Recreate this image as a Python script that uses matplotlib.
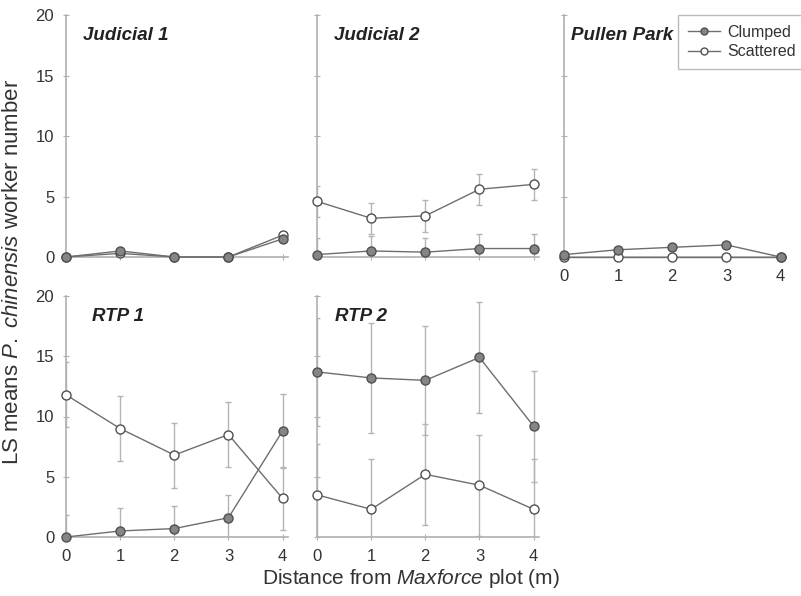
import matplotlib
matplotlib.use("Agg")
import matplotlib.pyplot as plt
from matplotlib.lines import Line2D

plt.rcParams["font.family"] = ["Liberation Sans", "DejaVu Sans"]
plt.rcParams["mathtext.fontset"] = "custom"
plt.rcParams["mathtext.rm"] = "Liberation Sans"
plt.rcParams["mathtext.it"] = "Liberation Sans:italic"

# distance from Maxforce plot (m)
distance = [0, 1, 2, 3, 4]

# LS means (clumped / scattered) and their SE
j1_clumped = [0.0, 0.5, 0.0, 0.0, 1.5]
j1_clumped_se = [0.0, 0.0, 0.0, 0.0, 0.3]
j1_scattered = [0.0, 0.3, 0.0, 0.0, 1.8]
j1_scattered_se = [0.0, 0.0, 0.0, 0.0, 0.3]

j2_clumped = [0.2, 0.5, 0.4, 0.7, 0.7]
j2_clumped_se = [1.4, 1.2, 1.2, 1.2, 1.2]
j2_scattered = [4.6, 3.2, 3.4, 5.6, 6.0]
j2_scattered_se = [1.3, 1.3, 1.3, 1.3, 1.3]

pp_clumped = [0.2, 0.6, 0.8, 1.0, 0.0]
pp_clumped_se = [0.0, 0.0, 0.0, 0.0, 0.0]
pp_scattered = [0.0, 0.0, 0.0, 0.0, 0.0]
pp_scattered_se = [0.0, 0.0, 0.0, 0.0, 0.0]

rtp1_clumped = [0.0, 0.5, 0.7, 1.6, 8.8]
rtp1_clumped_se = [1.8, 1.9, 1.9, 1.9, 3.1]
rtp1_scattered = [11.8, 9.0, 6.8, 8.5, 3.2]
rtp1_scattered_se = [2.7, 2.7, 2.7, 2.7, 2.6]

rtp2_clumped = [13.7, 13.2, 13.0, 14.9, 9.2]
rtp2_clumped_se = [4.5, 4.6, 4.5, 4.6, 4.6]
rtp2_scattered = [3.5, 2.3, 5.2, 4.3, 2.3]
rtp2_scattered_se = [4.2, 4.2, 4.2, 4.2, 4.2]

sites = ["Judicial 1", "Judicial 2", "Pullen Park", "RTP 1", "RTP 2"]

LINE = "#6e6e6e"
EDGE = "#505050"
FILL = "#858585"
ERR = "#b4b4b4"
SPINE = "#b0b0b0"
TXT = "#333333"

fig = plt.figure(figsize=(8.01, 5.96), dpi=100)

W = 222 / 801
H_TOP = 242 / 596
H_BOT = 241 / 596
panels = [
    # rect, clumped, clumped_se, scattered, scattered_se, show y labels, show x labels, title x
    ([66 / 801, 1 - 257 / 596, W, H_TOP], j1_clumped, j1_clumped_se, j1_scattered, j1_scattered_se, True, False, 0.075),
    ([317 / 801, 1 - 257 / 596, W, H_TOP], j2_clumped, j2_clumped_se, j2_scattered, j2_scattered_se, False, False, 0.075),
    ([564 / 801, 1 - 257 / 596, W, H_TOP], pp_clumped, pp_clumped_se, pp_scattered, pp_scattered_se, False, True, 0.03),
    ([66 / 801, 1 - 537 / 596, W, H_BOT], rtp1_clumped, rtp1_clumped_se, rtp1_scattered, rtp1_scattered_se, True, True, 0.115),
    ([317 / 801, 1 - 537 / 596, W, H_BOT], rtp2_clumped, rtp2_clumped_se, rtp2_scattered, rtp2_scattered_se, False, True, 0.08),
]

for site, (rect, cl, cl_se, sc, sc_se, ylab, xlab, tx) in zip(sites, panels):
    ax = fig.add_axes(rect)
    ax.patch.set_alpha(0)
    for vals, se, face in [(sc, sc_se, "white"), (cl, cl_se, FILL)]:
        if any(se):
            ax.errorbar(distance, vals, yerr=se, fmt="none", ecolor=ERR,
                        elinewidth=1.0, capsize=2, capthick=1.0, zorder=1)
        ax.plot(distance, vals, color=LINE, lw=1.0, marker="o", ms=6.5,
                mfc=face, mec=EDGE, mew=1.0, zorder=3, clip_on=False)
    ax.set_xlim(0, 4.1)
    ax.set_ylim(0, 20)
    ax.set_xticks(distance)
    ax.set_yticks([0, 5, 10, 15, 20])
    for s in ["top", "right"]:
        ax.spines[s].set_visible(False)
    for s in ["left", "bottom"]:
        ax.spines[s].set_color(SPINE)
        ax.spines[s].set_linewidth(1.2)
    ax.tick_params(direction="inout", length=5, width=0.8, color=SPINE,
                   labelsize=12, labelcolor=TXT, pad=6)
    if not ylab:
        ax.set_yticklabels([])
    if not xlab:
        ax.set_xticklabels([])
    ax.text(tx, 0.915, site, transform=ax.transAxes, fontsize=13.5,
            fontweight="bold", style="italic", color="#222222", va="center")

handles = [
    Line2D([], [], color=LINE, lw=1.0, marker="o", ms=5, mfc=FILL, mec=EDGE),
    Line2D([], [], color=LINE, lw=1.0, marker="o", ms=5, mfc="white", mec=EDGE),
]
fig.legend(handles, ["Clumped", "Scattered"], loc="upper left",
           bbox_to_anchor=(678 / 801, 1 - 15 / 596), borderaxespad=0,
           fontsize=11.5, frameon=True, fancybox=False, edgecolor="#aaaaaa",
           handlelength=2.0, handletextpad=0.5, borderpad=0.6, labelspacing=0.3,
           labelcolor=TXT)

fig.text(13 / 801, 1 - 272 / 596, r"LS means $\it{P.\ chinensis}$ worker number",
         rotation=90, ha="center", va="center", fontsize=16, color=TXT)
fig.text(411 / 801, 1 - 578 / 596, r"Distance from $\it{Maxforce}$ plot (m)",
         ha="center", va="center", fontsize=15, color=TXT)

fig.savefig("out.png", dpi=100)
